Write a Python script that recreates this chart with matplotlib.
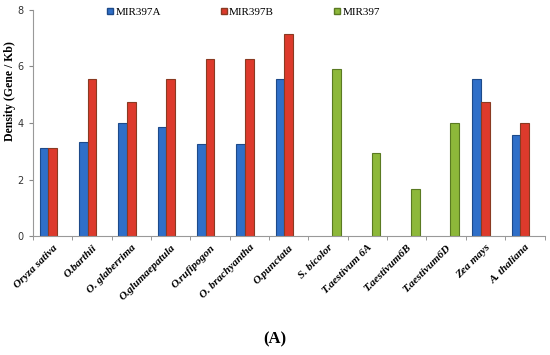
import numpy as np
import matplotlib.pyplot as plt
from matplotlib.lines import Line2D

# data
species = ['Oryza sativa', 'O.barthii', 'O. glaberrima', 'O.glumaepatula',
           'O.rufipogon', 'O. brachyantha', 'O.punctata', 'S. bicolor',
           'T.aestivum 6A', 'T.aestivum6B', 'T.aestivum6D', 'Zea mays',
           'A. thaliana']
mir397a = [3.12, 3.32, 4.0, 3.86, 3.24, 3.24, 5.56, np.nan, np.nan, np.nan, np.nan, 5.56, 3.58]
mir397b = [3.12, 5.56, 4.76, 5.56, 6.26, 6.26, 7.16, np.nan, np.nan, np.nan, np.nan, 4.76, 4.0]
mir397 = [np.nan, np.nan, np.nan, np.nan, np.nan, np.nan, np.nan, 5.9, 2.94, 1.68, 4.0, np.nan, np.nan]

serif = ['Liberation Serif', 'DejaVu Serif']

fig = plt.figure(figsize=(5.5, 3.55), dpi=100)
ax = fig.add_axes([0.06, 0.335, 0.93, 0.637])

x = np.arange(len(species))
w = 0.22
series = [
    (mir397a, -w, '#2f6fc8', '#1d4a8a', 'MIR397A'),
    (mir397b, 0, '#dd3a2c', '#8a3a22', 'MIR397B'),
    (mir397, w, '#8db83a', '#5a7a22', 'MIR397'),
]
handles = []
for vals, off, col, edge, name in series:
    ax.bar(x + off, vals, width=w, color=col, edgecolor=edge, linewidth=0.8)
    handles.append(Line2D([], [], marker='s', linestyle='none', markersize=4,
                          markerfacecolor=col, markeredgecolor=edge, label=name))

ax.set_xlim(-0.5, len(species) - 0.5)
ax.set_ylim(0, 8)
ax.set_yticks([0, 2, 4, 6, 8])
ax.tick_params(axis='y', labelsize=7, length=3, color='#888888', labelcolor='#333333')
ax.set_xticks(x)
ax.set_xticklabels(species, rotation=45, ha='right', rotation_mode='anchor',
                   fontsize=8, fontweight='bold', fontstyle='italic', family=serif)
ax.tick_params(axis='x', length=0, pad=5)
ax.set_xticks(np.arange(len(species) + 1) - 0.5, minor=True)
ax.tick_params(axis='x', which='minor', length=3, color='#888888')

for s in ['top', 'right']:
    ax.spines[s].set_visible(False)
for s in ['left', 'bottom']:
    ax.spines[s].set_color('#999999')
    ax.spines[s].set_linewidth(0.8)

ax.set_ylabel('Density (Gene / Kb)', fontsize=8.5, fontweight='bold', family=serif)
ax.yaxis.set_label_coords(-0.033, 0.64)

ax.legend(handles=handles, loc='upper left', bbox_to_anchor=(0.125, 1.055), ncol=3,
          frameon=False, handlelength=0.6, handletextpad=0.15, columnspacing=5.4,
          prop={'family': serif, 'size': 8})

fig.text(0.5, 0.045, '(A)', ha='center', va='center', fontsize=12,
         fontweight='bold', family=serif)

fig.savefig('out.png', dpi=100)
